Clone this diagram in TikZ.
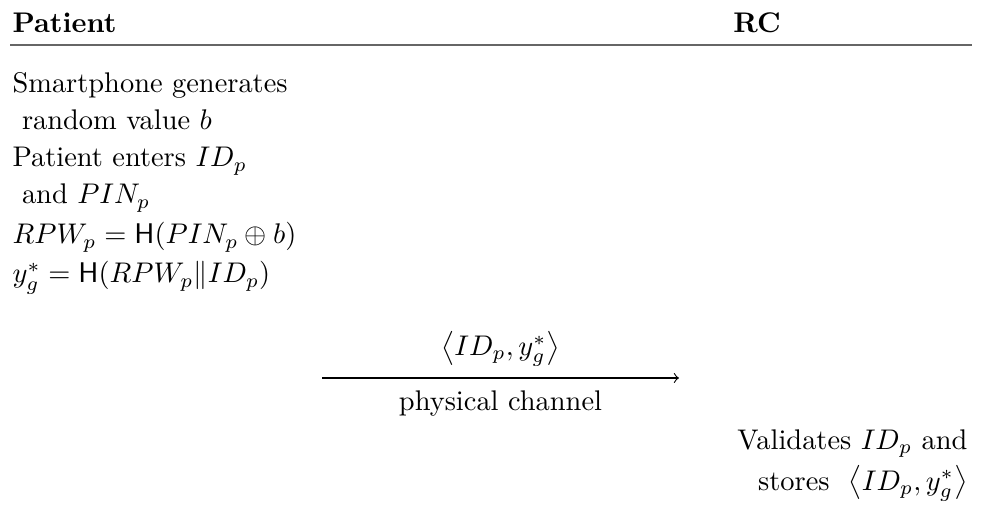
\documentclass[tikz,border=0pt]{standalone}
\usepackage{amsmath,amssymb}
\usepackage{xcolor}
\usetikzlibrary{positioning}

\begin{document}
\begin{tikzpicture}[x=0.3519pt, y=-0.3519pt, every node/.style={inner sep=0pt},
    step line/.style={anchor=base west}, rc line/.style={anchor=base east}]
    \useasboundingbox (0,0) rectangle (981,519);
    \node[step line] (patient) at (12,33) {\textbf{Patient}};
    \node[anchor=base] (rc) at (757,33) {\textbf{RC}};
    \coordinate (ruleL) at (10,45);
    \coordinate (ruleR) at (972,45);
    \draw[black!60, line width=0.7pt] (ruleL) -- (ruleR);

    % patient side
    \node[step line] (gen) at (12,93) {Smartphone generates};
    \node[step line] (rand) at (12,130) {\ random value $b$};
    \node[step line] (enter) at (12,167) {Patient enters $ID_p$};
    \node[step line] (pin) at (12,204) {\ and $PIN_p$};
    \node[step line] (rpw) at (12,244) {$RPW_p = \mathsf{H}(PIN_p \oplus b)$};
    \node[step line] (yg) at (12,283) {$y_g^* = \mathsf{H}(RPW_p \| ID_p)$};

    % message
    \coordinate (send) at (322,378);
    \coordinate (recv) at (679,378);
    \draw[->] (send) -- (recv)
        node[midway, above=3.9pt] (msg) {$\left\langle ID_p, y_g^* \right\rangle$}
        node[midway, below=4.3pt] (chan) {physical channel};

    % RC side
    \node[rc line] (valid) at (968,449) {Validates $ID_p$ and};
    \node[rc line] (store) at (968,490) {stores \ $\left\langle ID_p, y_g^* \right\rangle$};
\end{tikzpicture}
\end{document}
